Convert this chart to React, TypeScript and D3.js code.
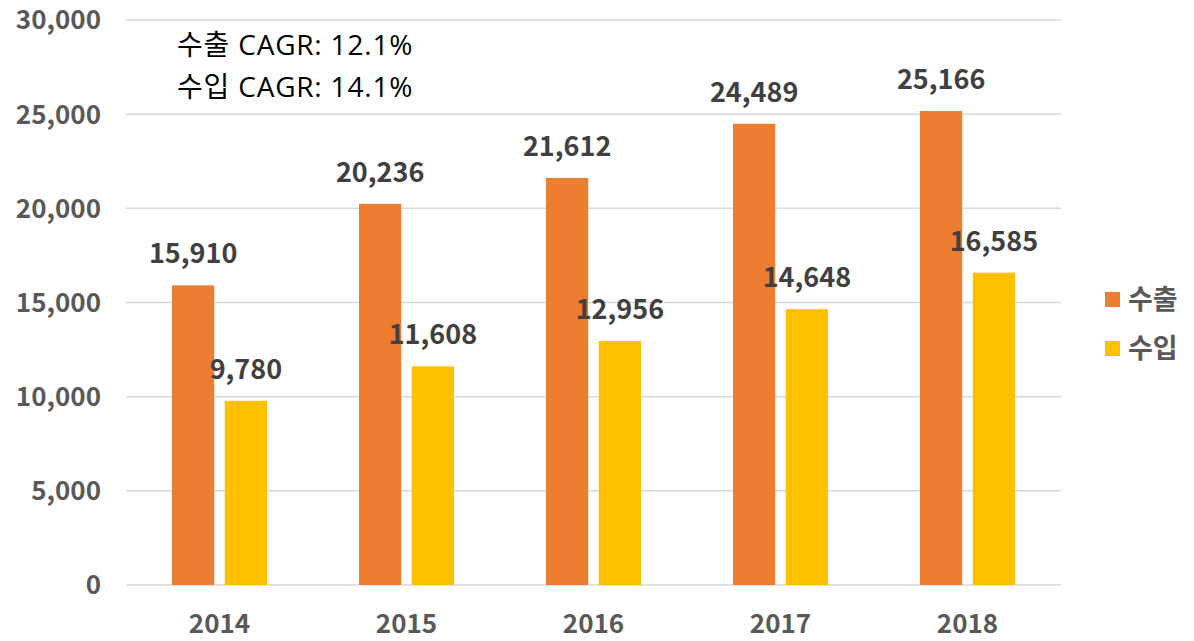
import React from "react";
import * as d3 from "d3";

const years = ["2014", "2015", "2016", "2017", "2018"];
const exportsVals = [15910, 20236, 21612, 24489, 25166];
const importsVals = [9780, 11608, 12956, 14648, 16585];
const seriesNames = ["수출", "수입"];
const seriesColors = ["#ED7D31", "#FFC000"];
const yTicks = [0, 5000, 10000, 15000, 20000, 25000, 30000];
const cagrLines = ["수출 CAGR: 12.1%", "수입 CAGR: 14.1%"];

const W = 1194;
const H = 641;
const FONT = "'Noto Sans CJK KR', 'Open Sans', sans-serif";
const FONT2 = "'Open Sans', 'Noto Sans CJK KR', sans-serif";

export default function App() {
  const x = d3.scaleBand<string>().domain(years).range([126, 1061]).paddingInner(0).paddingOuter(0);
  const y = d3.scaleLinear().domain([0, 30000]).range([585, 20]);
  const inner = d3.scaleBand<string>().domain(seriesNames).range([46, 141]).paddingInner(0.2);
  const fmt = d3.format(",");
  const series = [exportsVals, importsVals];

  return (
    <svg width={W} height={H} style={{ position: "absolute", left: 0, top: 0, fontFamily: FONT }}>
      <rect width={W} height={H} fill="#fff" />
      {yTicks.map((t) => (
        <g key={t}>
          <line x1={126} x2={1061} y1={y(t)} y2={y(t)} stroke="#D9D9D9" strokeWidth={1.5} />
          <text x={101} y={y(t)} dy="0.36em" textAnchor="end" fontSize={26} fontWeight="bold" fill="#595959">
            {fmt(t)}
          </text>
        </g>
      ))}
      {years.map((yr, i) => (
        <g key={yr}>
          {series.map((vals, s) => {
            const bx = (x(yr) as number) + (inner(seriesNames[s]) as number);
            const bw = inner.bandwidth();
            return (
              <g key={s}>
                <rect x={bx} y={y(vals[i])} width={bw} height={y(0) - y(vals[i])} fill={seriesColors[s]} />
                <text x={bx + bw / 2} y={y(vals[i]) - 22} textAnchor="middle" fontSize={27} fontWeight="bold" fill="#404040">
                  {fmt(vals[i])}
                </text>
              </g>
            );
          })}
          <text x={(x(yr) as number) + x.bandwidth() / 2} y={633} textAnchor="middle" fontSize={26} fontWeight="bold" fill="#595959">
            {yr}
          </text>
        </g>
      ))}
      {cagrLines.map((c, i) => (
        <text key={c} x={177} y={55 + i * 42} fontSize={28} letterSpacing={0.8} fill="#000" fontFamily={FONT2}>
          {c}
        </text>
      ))}
      {seriesNames.map((n, i) => (
        <g key={n}>
          <rect x={1105} y={292 + i * 49} width={15} height={15} fill={seriesColors[i]} />
          <text x={1128} y={299.5 + i * 49} dy="0.36em" fontSize={27} fontWeight="bold" fill="#595959">
            {n}
          </text>
        </g>
      ))}
    </svg>
  );
}
